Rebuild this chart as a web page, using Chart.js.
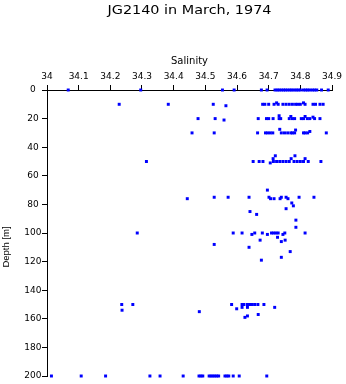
<!DOCTYPE html>
<html>
<head>
<meta charset="utf-8">
<title>JG2140 in March, 1974</title>
<script src="https://cdn.jsdelivr.net/npm/chart.js@4.4.1/dist/chart.umd.min.js"></script>
<style>
  html, body { margin: 0; padding: 0; background: #ffffff; }
  canvas { display: block; }
</style>
</head>
<body>
<canvas id="profile" width="346" height="384"></canvas>
<script>
// Station JG2140, March 1974: salinity samples against depth.
const chartTitle = 'JG2140 in March, 1974';
const xAxisTitle = 'Salinity';
const yAxisTitle = 'Depth [m]';

const salinityTicks = [34, 34.1, 34.2, 34.3, 34.4, 34.5, 34.6, 34.7, 34.8, 34.9];
const depthTicks = [0, 20, 40, 60, 80, 100, 120, 140, 160, 180, 200];

// Salinity readings (PSU), paired with depthReadings below.
const salinityReadings = [
  // surface
  34.067, 34.296, 34.554, 34.591, 34.677, 34.695, 34.720, 34.727, 34.733, 34.740,
  34.747, 34.753, 34.760, 34.767, 34.773, 34.780, 34.787, 34.793, 34.800, 34.810,
  34.817, 34.823, 34.830, 34.838, 34.845, 34.852, 34.867, 34.888,
  // ~10 m
  34.228, 34.383, 34.525, 34.565, 34.681, 34.688, 34.700, 34.717, 34.725, 34.730,
  34.745, 34.755, 34.765, 34.775, 34.785, 34.792, 34.800, 34.810, 34.815, 34.840,
  34.848, 34.862, 34.872,
  // ~20 m
  34.477, 34.531, 34.559, 34.667, 34.693, 34.700, 34.714, 34.733, 34.733, 34.738,
  34.765, 34.770, 34.775, 34.782, 34.803, 34.810, 34.815, 34.822, 34.830, 34.840,
  34.845, 34.862,
  // ~30 m
  34.458, 34.528, 34.665, 34.690, 34.697, 34.705, 34.713, 34.735, 34.740, 34.750,
  34.760, 34.770, 34.775, 34.782, 34.785, 34.810, 34.815, 34.823, 34.830, 34.882,
  // ~50 m
  34.314, 34.651, 34.670, 34.682, 34.705, 34.715, 34.725, 34.735, 34.745, 34.755,
  34.765, 34.780, 34.790, 34.800, 34.810, 34.825, 34.865, 34.721, 34.783, 34.714,
  34.771, 34.815,
  // 70-120 m
  34.696, 34.443, 34.528, 34.572, 34.638, 34.701, 34.740, 34.755, 34.796, 34.843,
  34.706, 34.717, 34.736, 34.761, 34.773, 34.778, 34.755, 34.641, 34.662, 34.786,
  34.786, 34.285, 34.588, 34.616, 34.656, 34.680, 34.709, 34.716, 34.723, 34.730,
  34.751, 34.815, 34.647, 34.696, 34.745, 34.728, 34.673, 34.752, 34.740, 34.528,
  34.638, 34.768, 34.740, 34.677,
  // ~150 m
  34.236, 34.271, 34.583, 34.616, 34.622, 34.633, 34.640, 34.648, 34.656, 34.666,
  34.685, 34.616, 34.633, 34.719, 34.599, 34.237, 34.481, 34.667, 34.633, 34.625,
  // 200 m
  34.014, 34.108, 34.185, 34.325, 34.357, 34.430, 34.480, 34.486, 34.492, 34.512,
  34.518, 34.524, 34.530, 34.536, 34.542, 34.562, 34.568, 34.574, 34.588, 34.607,
  34.694
];

// Sample depths (m), one per salinity reading.
const depthReadings = [
  // surface
  0, 0, 0, 0, 0, 0, 0, 0, 0, 0,
  0, 0, 0, 0, 0, 0, 0, 0, 0, 0,
  0, 0, 0, 0, 0, 0, 0, 0,
  // ~10 m
  10, 10, 10, 11, 10, 10, 10, 10, 9, 10,
  10, 10, 10, 10, 10, 10, 10, 9, 10, 10,
  10, 10, 10,
  // ~20 m
  20, 20, 21, 20, 20, 20, 20, 18, 20, 20,
  20, 18.5, 20, 20, 20, 20, 18.5, 20, 20, 19,
  20, 20,
  // ~30 m
  30, 30, 30, 30, 30, 30, 30, 27.5, 30, 30,
  30, 30, 30, 30, 28, 30, 30, 30, 29, 30,
  // ~50 m
  50, 50, 50, 50, 51, 50, 50, 50, 50, 50,
  50, 50, 50, 50, 50, 50, 50, 46, 46, 48,
  48, 48,
  // 70-120 m
  70, 76, 75, 75, 75, 75, 75, 75, 75, 75,
  76, 76, 76, 76, 79, 81, 83, 85, 87, 91,
  96, 100, 100, 100, 100, 100, 100, 100, 100, 100,
  100, 100, 101, 101, 101, 103, 105, 105, 106, 108,
  110, 113, 117, 119,
  // ~150 m
  150, 150, 150, 150, 150, 150, 150, 150, 150, 150,
  150, 152, 152, 152, 153, 154, 155, 157, 158, 159,
  // 200 m
  200, 200, 200, 200, 200, 200, 200, 200, 200, 200,
  200, 200, 200, 200, 200, 200, 200, 200, 200, 200,
  200
];

const samples = salinityReadings.map((s, i) => ({ x: s, y: depthReadings[i] }));

const INK = '#000000';
const MARK = '#0000ff';

// Main title and the depth caption, drawn on top of the finished chart.
const captions = {
  id: 'captions',
  afterDraw(chart) {
    const { ctx, chartArea } = chart;
    ctx.save();
    ctx.fillStyle = INK;
    ctx.font = '12px "DejaVu Sans"';
    ctx.textAlign = 'center';
    ctx.textBaseline = 'alphabetic';
    ctx.translate((chartArea.left + chartArea.right) / 2, 14);
    ctx.scale(1.2, 1);
    ctx.fillText(chartTitle, 0, 0);
    ctx.restore();

    ctx.save();
    ctx.fillStyle = INK;
    ctx.font = '9.5px "Liberation Sans"';
    ctx.textAlign = 'center';
    ctx.textBaseline = 'middle';
    ctx.translate(6, 247);
    ctx.rotate(-Math.PI / 2);
    ctx.fillText(yAxisTitle, 0, 0);
    ctx.restore();
  }
};

const fmt = v => {
  const r = Math.round(v * 10) / 10;
  return Number.isInteger(r) ? String(r) : r.toFixed(1);
};

new Chart(document.getElementById('profile'), {
  type: 'scatter',
  data: {
    datasets: [{
      label: xAxisTitle,
      data: samples,
      pointStyle: 'rect',
      pointRadius: 2.1,
      pointHoverRadius: 2.1,
      borderWidth: 0,
      backgroundColor: MARK,
      borderColor: MARK,
      clip: false
    }]
  },
  options: {
    responsive: false,
    devicePixelRatio: 1,
    animation: false,
    events: [],
    layout: { padding: { top: 0, left: 0, right: 14, bottom: 8 } },
    plugins: {
      legend: { display: false },
      title: { display: false },
      tooltip: { enabled: false }
    },
    scales: {
      x: {
        type: 'linear',
        position: 'top',
        min: salinityTicks[0],
        max: salinityTicks[salinityTicks.length - 1],
        afterBuildTicks(scale) { scale.ticks = salinityTicks.map(v => ({ value: v })); },
        afterFit(scale) { scale.height = 90; },
        grid: { drawOnChartArea: false, drawTicks: true, tickLength: 5, color: INK, lineWidth: 1 },
        border: { display: true, color: INK, width: 1 },
        ticks: {
          color: INK,
          padding: 3,
          maxRotation: 0,
          autoSkip: false,
          font: { family: '"DejaVu Sans"', size: 9 },
          callback: v => fmt(v)
        },
        title: {
          display: true,
          text: xAxisTitle,
          color: INK,
          font: { family: '"DejaVu Sans"', size: 10 },
          padding: { top: 55, bottom: 0 }
        }
      },
      y: {
        type: 'linear',
        reverse: true,
        min: depthTicks[0],
        max: depthTicks[depthTicks.length - 1],
        afterBuildTicks(scale) { scale.ticks = depthTicks.map(v => ({ value: v })); },
        afterFit(scale) { scale.width = 47; },
        grid: { drawOnChartArea: false, drawTicks: true, tickLength: 5, color: INK, lineWidth: 1 },
        border: { display: true, color: INK, width: 1 },
        ticks: {
          color: INK,
          padding: 0.5,
          crossAlign: 'center',
          autoSkip: false,
          font: { family: '"DejaVu Sans"', size: 9 },
          callback: v => String(v)
        },
        title: { display: false }
      }
    }
  },
  plugins: [captions]
});
</script>
</body>
</html>
